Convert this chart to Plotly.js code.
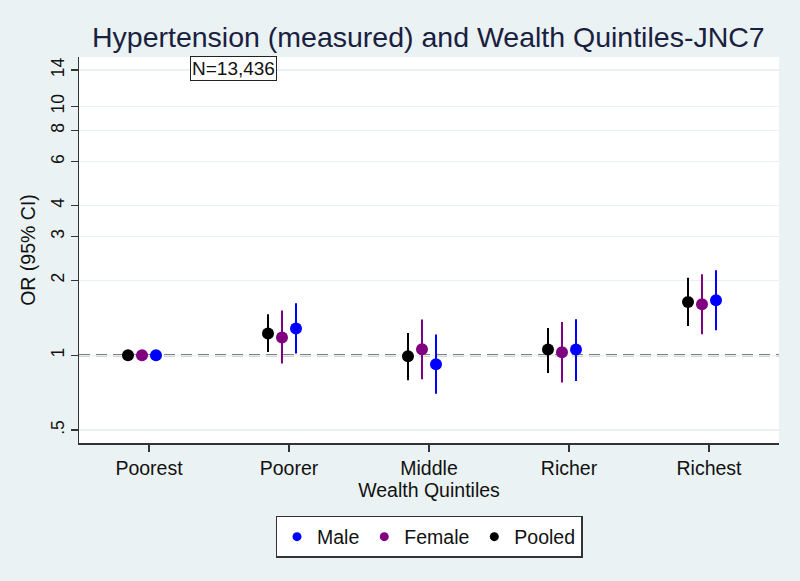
<!DOCTYPE html>
<html>
<head>
<meta charset="utf-8">
<script src="https://cdn.plot.ly/plotly-3.0.1.min.js"></script>
<style>html,body{margin:0;padding:0;background:#eaf2f3;}#chart{width:800px;height:581px;}</style>
</head>
<body>
<div id="chart"></div>
<script>
const categories = ["Poorest", "Poorer", "Middle", "Richer", "Richest"];

const maleOR  = [1, 1.28, 0.92, 1.054, 1.663];
const maleLo  = [1, 1.016, 0.701, 0.788, 1.26];
const maleHi  = [1, 1.618, 1.211, 1.395, 2.195];

const femaleOR = [1, 1.178, 1.057, 1.028, 1.602];
const femaleLo = [1, 0.926, 0.801, 0.777, 1.214];
const femaleHi = [1, 1.512, 1.391, 1.361, 2.115];

const pooledOR = [1, 1.222, 0.991, 1.054, 1.637];
const pooledLo = [1, 1.031, 0.794, 0.849, 1.311];
const pooledHi = [1, 1.461, 1.229, 1.287, 2.051];

const yTickVals = [0.5, 1, 2, 3, 4, 6, 8, 10, 14];
const yTickText = [".5", "1", "2", "3", "4", "6", "8", "10", "14"];

const FONT = "Liberation Sans, Arial, sans-serif";

function series(name, or, lo, hi, color, offset) {
  return {
    type: "scatter",
    mode: "markers",
    name: name,
    showlegend: false,
    x: categories.map((_, i) => i + 1 + offset),
    y: or,
    marker: {color: color, size: 12},
    error_y: {
      type: "data", symmetric: false,
      array: hi.map((h, i) => h - or[i]),
      arrayminus: lo.map((l, i) => or[i] - l),
      color: color, thickness: 2, width: 0
    },
    cliponaxis: false
  };
}

function legendEntry(name, color) {
  return {type: "scatter", mode: "markers", name: name, x: [null], y: [null],
          marker: {color: color, size: 9}, showlegend: true, hoverinfo: "skip"};
}

const data = [
  series("Male", maleOR, maleLo, maleHi, "#0000ff", 0.05),
  series("Female", femaleOR, femaleLo, femaleHi, "#800080", -0.05),
  series("Pooled", pooledOR, pooledLo, pooledHi, "#000000", -0.15),
  legendEntry("Male", "#0000ff"),
  legendEntry("Female", "#800080"),
  legendEntry("Pooled", "#000000")
];

const layout = {
  width: 800, height: 581,
  paper_bgcolor: "#eaf2f3",
  plot_bgcolor: "#ffffff",
  margin: {l: 79, r: 21, t: 57, b: 138},
  font: {family: FONT, size: 19.5, color: "#111"},
  title: {
    text: "Hypertension (measured) and Wealth Quintiles-JNC7",
    font: {family: FONT, size: 28.5, color: "#1a2040"},
    xref: "paper", x: 0.499, xanchor: "center",
    yref: "container", y: 0.936, yanchor: "middle"
  },
  xaxis: {
    range: [0.5, 5.5],
    tickvals: categories.map((_, i) => i + 1),
    ticktext: categories,
    ticks: "outside", ticklen: 7, tickwidth: 1.5, tickcolor: "#333",
    showline: true, linecolor: "#333", linewidth: 1.5,
    showgrid: false, zeroline: false,
    tickfont: {family: FONT, size: 19.5, color: "#111"},
    title: {text: "Wealth Quintiles", font: {family: FONT, size: 19.5, color: "#111"}, standoff: 0}
  },
  yaxis: {
    type: "log",
    range: [Math.log10(0.444), Math.log10(15.8)],
    tickvals: yTickVals,
    ticktext: yTickText,
    tickangle: -90,
    ticks: "outside", ticklen: 7, tickwidth: 1.5, tickcolor: "#333",
    showline: true, linecolor: "#333", linewidth: 1.5,
    showgrid: true, gridcolor: "#e8f0f2", gridwidth: 1.5,
    zeroline: false,
    tickfont: {family: FONT, size: 17.5, color: "#111"},
    title: {text: "OR (95% CI)", font: {family: FONT, size: 19.5, color: "#111"}, standoff: 6}
  },
  shapes: [{
    type: "line", xref: "paper", x0: 0, x1: 1, yref: "y", y0: 1, y1: 1,
    line: {color: "#555", width: 2, dash: "11px,6px"}, layer: "between"
  }],
  annotations: [{
    text: "N=13,436", xref: "paper", yref: "paper",
    x: 0.221, y: 0.9715, xanchor: "center", yanchor: "middle",
    showarrow: false, bgcolor: "#ffffff", bordercolor: "#222", borderwidth: 1, borderpad: 1,
    font: {family: FONT, size: 19, color: "#111"}
  }],
  legend: {
    orientation: "h", x: 0.5, xanchor: "center", y: -0.189, yanchor: "top",
    bgcolor: "#ffffff", bordercolor: "#333", borderwidth: 1.5,
    font: {family: FONT, size: 19.5, color: "#111"},
    itemclick: false
  },
  showlegend: true
};

Plotly.newPlot("chart", data, layout, {displayModeBar: false, staticPlot: true});
</script>
</body>
</html>
